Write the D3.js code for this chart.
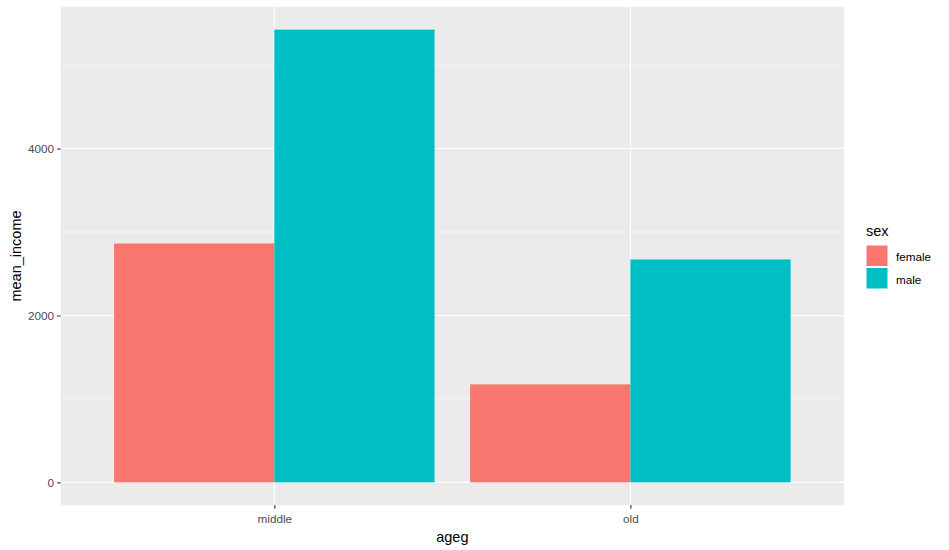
<!DOCTYPE html>
<html><head><meta charset="utf-8">
<script src="https://cdn.jsdelivr.net/npm/d3@7"></script>
<style>body{margin:0;background:#fff}svg{display:block}text{font-family:"Liberation Sans",Arial,sans-serif}</style>
</head><body>
<script>
const categories = ["middle", "old"];
const groups = ["female", "male"];
const female = [2862, 1174];
const male = [5425, 2671];
const yTicks = [0, 2000, 4000];
const yMinor = [1000, 3000, 5000];
const colors = ["#F8766D", "#00BFC4"];

const W = 949, H = 550;
const P = {left: 60.7, right: 844, top: 7, bottom: 505};
const svg = d3.select("body").append("svg").attr("width", W).attr("height", H);

const data = categories.map((c, i) => ({cat: c, vals: [female[i], male[i]]}));
const maxV = d3.max([...female, ...male]);
const y = d3.scaleLinear().domain([-0.05 * maxV, 1.05 * maxV]).range([P.bottom, P.top]);
const xc = d3.scaleLinear().domain([0.4, 2.6]).range([P.left, P.right]);
const xPos = c => xc(categories.indexOf(c) + 1);
const unit = xc(1) - xc(0);

svg.append("rect").attr("x", P.left).attr("y", P.top).attr("width", P.right - P.left).attr("height", P.bottom - P.top).attr("fill", "#EBEBEB");
const g = svg.append("g");
g.selectAll(".minor").data(yMinor).join("line").attr("x1", P.left).attr("x2", P.right)
  .attr("y1", d => y(d)).attr("y2", d => y(d)).attr("stroke", "#fff").attr("stroke-width", 0.55);
g.selectAll(".major").data(yTicks).join("line").attr("x1", P.left).attr("x2", P.right)
  .attr("y1", d => y(d)).attr("y2", d => y(d)).attr("stroke", "#fff").attr("stroke-width", 1.1);
g.selectAll(".vmajor").data(categories).join("line").attr("y1", P.top).attr("y2", P.bottom)
  .attr("x1", d => xPos(d)).attr("x2", d => xPos(d)).attr("stroke", "#fff").attr("stroke-width", 1.1);

const barW = 0.9 * unit / 2;
data.forEach(d => {
  d.vals.forEach((v, j) => {
    svg.append("rect")
      .attr("x", xPos(d.cat) - 0.45 * unit + j * barW)
      .attr("y", y(v)).attr("width", barW).attr("height", y(0) - y(v))
      .attr("fill", colors[j]);
  });
});

// Y axis
const yAxis = svg.append("g").attr("transform", `translate(${P.left},0)`)
  .call(d3.axisLeft(y).tickValues(yTicks).tickFormat(d3.format("d")).tickSize(3.7).tickPadding(3));
yAxis.select(".domain").remove();
yAxis.selectAll("line").attr("stroke", "#333").attr("stroke-width", 1.1);
yAxis.selectAll("text").attr("fill", "#4D4D4D").style("font-size", "11.7px").attr("font-family", null);

// X axis
const xAxis = svg.append("g").attr("transform", `translate(0,${P.bottom})`)
  .call(d3.axisBottom(d3.scalePoint().domain(categories).range([xPos(categories[0]), xPos(categories[1])])).tickSize(3.7).tickPadding(6));
xAxis.select(".domain").remove();
xAxis.selectAll("line").attr("stroke", "#333").attr("stroke-width", 1.1);
xAxis.selectAll("text").attr("fill", "#4D4D4D").style("font-size", "11.7px").attr("font-family", null);

svg.append("text").attr("x", (P.left + P.right) / 2).attr("y", 542).attr("text-anchor", "middle")
  .style("font-size", "14.5px").attr("fill", "#000").text("ageg");
svg.append("text").attr("transform", `translate(21,${(P.top + P.bottom) / 2}) rotate(-90)`).attr("text-anchor", "middle")
  .style("font-size", "14.5px").attr("fill", "#000").text("mean_income");

// Legend
const lg = svg.append("g").attr("transform", "translate(866,0)");
lg.append("text").attr("x", 0).attr("y", 236).style("font-size", "14.5px").attr("fill", "#000").text("sex");
groups.forEach((s, i) => {
  lg.append("rect").attr("x", 0).attr("y", 245 + i * 22.5).attr("width", 22).attr("height", 21.5).attr("fill", colors[i]).attr("stroke", "#fff").attr("stroke-width", 1);
  lg.append("text").attr("x", 30).attr("y", 257 + i * 22.5).attr("dy", "0.35em").style("font-size", "11.7px").attr("fill", "#000").text(s);
});
</script>
</body></html>
